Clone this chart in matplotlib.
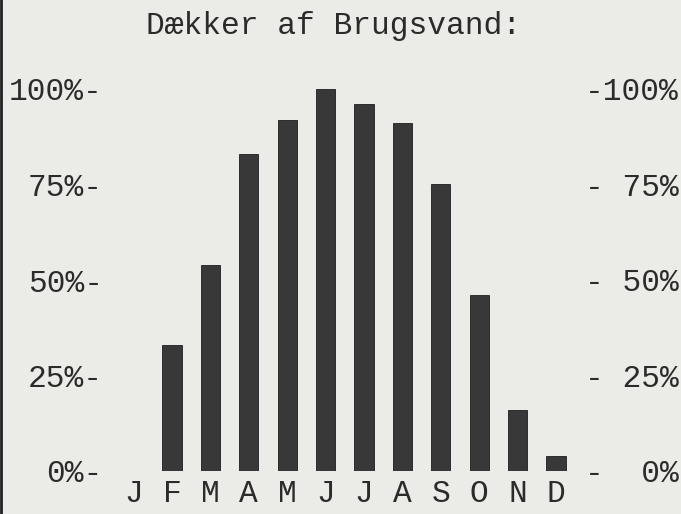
import numpy as np
import matplotlib
matplotlib.use("Agg")
import matplotlib.pyplot as plt
from matplotlib.lines import Line2D

# ── DATA ────────────────────────────────────────────────────
months = ["J", "F", "M", "A", "M", "J", "J", "A", "S", "O", "N", "D"]
coverage = [0, 33, 54, 83, 92, 100, 96, 91, 75, 46, 16, 4]
tick_vals = [0, 25, 50, 75, 100]
left_labels = ["0%-", "25%-", "50%-", "75%-", "100%-"]
right_labels = ["-  0%", "- 25%", "- 50%", "- 75%", "-100%"]
title = "Dækker af Brugsvand:"

# ── STYLE ───────────────────────────────────────────────────
W, H = 681, 514
paper = "#ebebe7"
ink = "#2b2b2b"
bar_col = "#383838"
mono = "Liberation Mono"
fs = 22.5

fig = plt.figure(figsize=(W / 100, H / 100), dpi=100, facecolor=paper)

# axes placed in pixel terms: month i sits at x = 133.6 + 38.4*i
x0, x1 = 114.4, 575.2
y0, y1 = H - 471, H - 89
ax = fig.add_axes([x0 / W, y0 / H, (x1 - x0) / W, (y1 - y0) / H])
ax.set_facecolor("none")

x = np.arange(len(months))
ax.bar(x, coverage, width=0.5, color=bar_col, edgecolor="#1e1e1e", linewidth=0.6)
ax.set_xlim(-0.5, len(months) - 0.5)
ax.set_ylim(0, 100)

for s in ax.spines.values():
    s.set_visible(False)

ax.set_xticks(x)
ax.set_xticklabels(months, fontfamily=mono, fontsize=fs, color=ink)
ax.set_yticks(tick_vals)
ax.set_yticklabels(left_labels, fontfamily=mono, fontsize=fs, color=ink)
ax.tick_params(axis="x", length=0, pad=6)
ax.tick_params(axis="y", length=0, pad=8.5)

ax2 = ax.twinx()
ax2.set_ylim(0, 100)
ax2.set_yticks(tick_vals)
ax2.set_yticklabels(right_labels, fontfamily=mono, fontsize=fs, color=ink)
ax2.tick_params(axis="y", length=0, pad=7)
for s in ax2.spines.values():
    s.set_visible(False)

fig.text(333 / W, 1 - 26 / H, title, ha="center", va="center",
         fontfamily=mono, fontsize=fs, color=ink)

# dark scan edge on the left
fig.add_artist(Line2D([1.2 / W, 1.2 / W], [0, 1], transform=fig.transFigure,
                      color="#222222", linewidth=2))

fig.savefig("out.png", dpi=100, facecolor=paper)
